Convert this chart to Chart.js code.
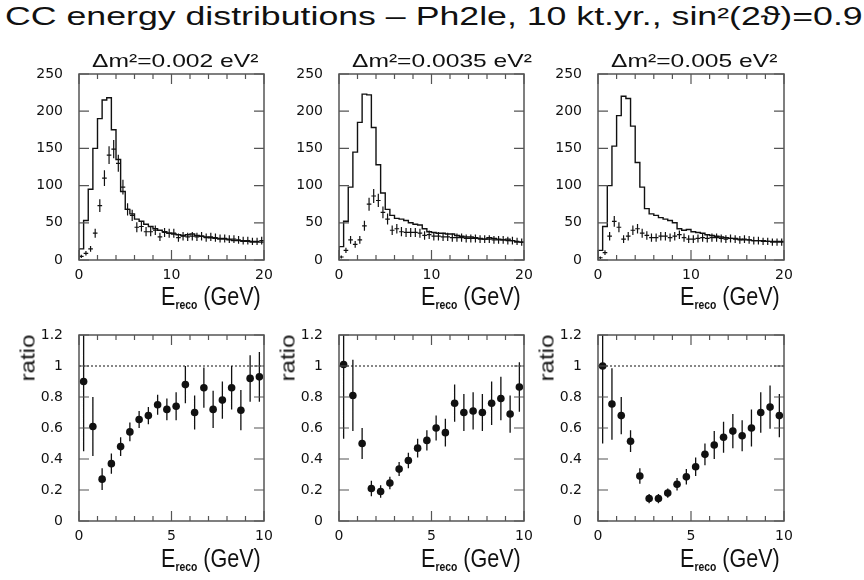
<!DOCTYPE html>
<html>
<head>
<meta charset="utf-8">
<script src="https://cdn.jsdelivr.net/npm/chart.js@4/dist/chart.umd.min.js"></script>
<style>
body { margin: 0; background: #fff; }
#page { position: relative; width: 864px; height: 580px; overflow: hidden;
        font-family: "Liberation Sans", Arial, sans-serif; color: #111; }
canvas { position: absolute; }
.txt { position: absolute; white-space: nowrap; line-height: 1; transform-origin: 0 0; }
.rot { transform-origin: 50% 50%; }
.sub { font-size: 12px; font-weight: bold; position: relative; top: 4px; }
</style>
</head>
<body>
<div id="page"></div>
<script>
// 0.5 GeV bins, 0-20 GeV (top row) and 0-10 GeV (ratio row)
var binWidth = 0.5;

var topXTicks = [0, 10, 20];
var topYTicks = [0, 50, 100, 150, 200, 250];
var ratioXTicks = [0, 5, 10];
var ratioYTicks = [0, 0.2, 0.4, 0.6, 0.8, 1, 1.2];

var panelTitles = ['Δm²=0.002 eV²', 'Δm²=0.0035 eV²', 'Δm²=0.005 eV²'];

// unoscillated spectra (histogram outline)
var noOsc1 = [5, 15, 53, 95, 150, 190, 215, 218, 175, 135, 92, 68, 62, 55, 52, 48, 45, 42, 40, 38,
              36, 35, 34, 33, 34, 35, 33, 32, 31, 30, 29, 28, 28, 27, 26, 26, 25, 25, 24, 24];
var noOsc2 = [4, 18, 52, 98, 145, 185, 223, 222, 178, 128, 90, 68, 60, 56, 55, 53, 50, 48, 47, 42,
              38, 37, 36, 36, 35, 35, 33, 32, 31, 31, 30, 29, 28, 30, 29, 28, 27, 28, 26, 24];
var noOsc3 = [2, 13, 45, 100, 153, 194, 220, 217, 180, 131, 98, 69, 62, 60, 57, 55, 53, 50, 42, 40,
              41, 38, 37, 36, 34, 33, 32, 31, 30, 29, 29, 28, 27, 27, 26, 26, 26, 25, 25, 25];

// oscillated spectra (crosses) and their errors
var osc1 = [5, 9, 15, 36, 73, 110, 141, 149, 130, 98, 68, 60, 44, 45, 38, 38, 40, 31, 37, 36,
            36, 30, 32, 31, 32, 31, 32, 30, 31, 30, 29, 29, 28, 28, 27, 26, 26, 25, 25, 26];
var oscErr1 = [2.2, 3, 3.9, 6, 8.5, 10.5, 11.9, 12.2, 11.4, 9.9, 8.2, 7.7, 6.6, 6.7, 6.2, 6.2, 6.3, 5.6, 6.1, 6,
               6, 5.5, 5.7, 5.6, 5.7, 5.6, 5.7, 5.5, 5.6, 5.5, 5.4, 5.4, 5.3, 5.3, 5.2, 5.1, 5.1, 5, 5, 5.1];
var osc2 = [4, 13, 27, 21, 27, 46, 75, 86, 80, 64, 55, 40, 42, 38, 37, 37, 37, 36, 33, 34,
            32, 32, 31, 31, 30, 30, 30, 29, 29, 29, 28, 28, 28, 27, 27, 27, 26, 26, 25, 24];
var oscErr2 = [2, 3.6, 5.2, 4.6, 5.2, 6.8, 8.7, 9.3, 8.9, 8, 7.4, 6.3, 6.5, 6.2, 6.1, 6.1, 6.1, 6, 5.7, 5.8,
               5.7, 5.7, 5.6, 5.6, 5.5, 5.5, 5.5, 5.4, 5.4, 5.4, 5.3, 5.3, 5.3, 5.2, 5.2, 5.2, 5.1, 5.1, 5, 4.9];
var osc3 = [3, 10, 32, 52, 44, 28, 32, 40, 42, 36, 33, 30, 30, 32, 32, 30, 32, 34, 30, 28,
            28, 29, 30, 29, 30, 30, 29, 28, 29, 28, 27, 28, 27, 26, 26, 25, 25, 24, 24, 24];
var oscErr3 = [1.7, 3.2, 5.7, 7.2, 6.6, 5.3, 5.7, 6.3, 6.5, 6, 5.7, 5.5, 5.5, 5.7, 5.7, 5.5, 5.7, 5.8, 5.5, 5.3,
               5.3, 5.4, 5.5, 5.4, 5.5, 5.5, 5.4, 5.3, 5.4, 5.3, 5.2, 5.3, 5.2, 5.1, 5.1, 5, 5, 4.9, 4.9, 4.9];

// ratio oscillated / unoscillated, 0-10 GeV
var ratio1 = [0.90, 0.61, 0.27, 0.37, 0.48, 0.575, 0.655, 0.68, 0.75, 0.72,
              0.74, 0.88, 0.70, 0.86, 0.72, 0.78, 0.86, 0.715, 0.92, 0.93];
var ratioErr1 = [0.45, 0.19, 0.07, 0.065, 0.06, 0.06, 0.055, 0.055, 0.065, 0.07,
                 0.09, 0.12, 0.11, 0.13, 0.12, 0.12, 0.14, 0.13, 0.15, 0.16];
var ratio2 = [1.01, 0.81, 0.50, 0.21, 0.19, 0.245, 0.335, 0.39, 0.47, 0.52,
              0.60, 0.57, 0.76, 0.70, 0.71, 0.70, 0.76, 0.79, 0.69, 0.865];
var ratioErr2 = [0.48, 0.23, 0.1, 0.05, 0.04, 0.04, 0.045, 0.05, 0.06, 0.065,
                 0.08, 0.09, 0.12, 0.12, 0.12, 0.12, 0.14, 0.14, 0.12, 0.16];
var ratio3 = [1.0, 0.755, 0.68, 0.515, 0.29, 0.145, 0.145, 0.18, 0.237, 0.285,
              0.35, 0.43, 0.49, 0.54, 0.58, 0.55, 0.60, 0.70, 0.735, 0.68];
var ratioErr3 = [0.5, 0.23, 0.12, 0.07, 0.05, 0.03, 0.03, 0.03, 0.04, 0.05,
                 0.06, 0.07, 0.09, 0.1, 0.11, 0.1, 0.12, 0.13, 0.14, 0.14];

var panels = [
  {left: 79, width: 185, noOsc: noOsc1, osc: osc1, oscErr: oscErr1, ratio: ratio1, ratioErr: ratioErr1, ratioX: 27},
  {left: 339, width: 185, noOsc: noOsc2, osc: osc2, oscErr: oscErr2, ratio: ratio2, ratioErr: ratioErr2, ratioX: 287},
  {left: 598, width: 186, noOsc: noOsc3, osc: osc3, oscErr: oscErr3, ratio: ratio3, ratioErr: ratioErr3, ratioX: 546}
];

var INK = '#111';
var FRAME = '#555';

function stepPoints(vals) {
  var pts = [{x: 0, y: 0}];
  vals.forEach(function (v, i) { pts.push({x: i * binWidth, y: v}); });
  pts.push({x: vals.length * binWidth, y: vals[vals.length - 1]});
  return pts;
}

function barPoints(vals, errs, horiz) {
  var pts = [];
  vals.forEach(function (v, i) {
    var xc = (i + 0.5) * binWidth;
    pts.push({x: xc, y: v - errs[i]}, {x: xc, y: v + errs[i]}, {x: xc, y: null});
    if (horiz) {
      pts.push({x: xc - binWidth / 2, y: v}, {x: xc + binWidth / 2, y: v}, {x: xc, y: null});
    }
  });
  return pts;
}

function centerPoints(vals) {
  return vals.map(function (v, i) { return {x: (i + 0.5) * binWidth, y: v}; });
}

// box round the plot with inward ticks on all four sides
var framePlugin = {
  id: 'frame',
  afterDatasetsDraw: function (chart, args, o) {
    var ctx = chart.ctx, a = chart.chartArea, x = chart.scales.x, y = chart.scales.y;
    ctx.save();
    ctx.strokeStyle = FRAME;
    ctx.lineWidth = 1.5;
    ctx.strokeRect(a.left, a.top, a.right - a.left, a.bottom - a.top);
    ctx.lineWidth = 1.2;
    ctx.beginPath();
    for (var v = x.min; v <= x.max + 1e-9; v += o.xMinor) {
      var px = x.getPixelForValue(v);
      var len = Math.abs(v % o.xMajor) < 1e-9 ? 10 : 5;
      ctx.moveTo(px, a.bottom); ctx.lineTo(px, a.bottom - len);
      ctx.moveTo(px, a.top); ctx.lineTo(px, a.top + len);
    }
    o.yTicks.forEach(function (t) {
      var py = y.getPixelForValue(t);
      ctx.moveTo(a.left, py); ctx.lineTo(a.left + 10, py);
      ctx.moveTo(a.right, py); ctx.lineTo(a.right - 10, py);
    });
    ctx.stroke();
    ctx.restore();
  }
};

function makeChart(left, top, width, datasets, xTicks, yTicks, xMinor) {
  var c = document.createElement('canvas');
  var w = 70 + width + 14, h = 10 + 186 + 30;
  c.width = w; c.height = h;
  c.style.left = (left - 70) + 'px';
  c.style.top = (top - 10) + 'px';
  c.style.width = w + 'px'; c.style.height = h + 'px';
  document.getElementById('page').appendChild(c);
  var tickFont = {family: '"DejaVu Sans", sans-serif', size: 14};
  return new Chart(c.getContext('2d'), {
    type: 'line',
    data: {datasets: datasets},
    plugins: [framePlugin],
    options: {
      responsive: false,
      animation: false,
      devicePixelRatio: 1,
      layout: {padding: {top: 10, right: 14, left: 0, bottom: 0}},
      plugins: {
        legend: {display: false},
        tooltip: {enabled: false},
        frame: {xMinor: xMinor, xMajor: xTicks[1], yTicks: yTicks}
      },
      scales: {
        x: {
          type: 'linear',
          min: xTicks[0], max: xTicks[xTicks.length - 1],
          grid: {display: false, drawTicks: false},
          border: {display: false},
          ticks: {stepSize: xTicks[1] - xTicks[0], padding: 7, color: INK, font: tickFont,
                  maxRotation: 0, autoSkip: false},
          afterFit: function (s) { s.height = 30; s.paddingLeft = 0; s.paddingRight = 0; }
        },
        y: {
          min: yTicks[0], max: yTicks[yTicks.length - 1],
          grid: {display: false, drawTicks: false},
          border: {display: false},
          ticks: {stepSize: yTicks[1] - yTicks[0], padding: 16, color: INK, font: tickFont,
                  callback: function (v) { return String(Math.round(v * 10) / 10); }},
          afterFit: function (s) { s.width = 70; s.paddingTop = 0; s.paddingBottom = 0; }
        }
      }
    }
  });
}

function addText(html, cls, style) {
  var d = document.createElement('div');
  d.className = 'txt ' + cls;
  d.innerHTML = html;
  Object.keys(style).forEach(function (k) { d.style[k] = style[k]; });
  document.getElementById('page').appendChild(d);
  return d;
}

function fitWidth(el, target, rotated) {
  var k = target / el.offsetWidth;
  el.style.transform = (rotated ? 'translate(-50%,-50%) rotate(-90deg) ' : '') + 'scaleX(' + k + ')';
}

var title = addText('CC energy distributions – Ph2le, 10 kt.yr., sin²(2ϑ)=0.9', '',
                    {left: '5px', top: '4px', fontSize: '25px'});
fitWidth(title, 858);

panels.forEach(function (p, i) {
  // top row: spectra
  makeChart(p.left, 74, p.width, [
    {data: stepPoints(p.noOsc), stepped: 'after', borderColor: INK, borderWidth: 1.4,
     pointRadius: 0, fill: false},
    {data: barPoints(p.osc, p.oscErr, true), borderColor: INK, borderWidth: 1.2,
     pointRadius: 0, fill: false, spanGaps: false}
  ], topXTicks, topYTicks, 2);

  // bottom row: ratio
  makeChart(p.left, 335, p.width, [
    {data: [{x: ratioXTicks[0], y: 1}, {x: ratioXTicks[2], y: 1}], borderColor: INK,
     borderWidth: 1, borderDash: [2, 2], pointRadius: 0, fill: false},
    {data: barPoints(p.ratio, p.ratioErr, false), borderColor: INK, borderWidth: 1.3,
     pointRadius: 0, fill: false, spanGaps: false},
    {data: centerPoints(p.ratio), showLine: false, pointRadius: 3.8, pointBorderWidth: 0,
     pointBackgroundColor: INK}
  ], ratioXTicks, ratioYTicks, 1);

  var t = addText(panelTitles[i], '', {left: (p.left + 13) + 'px', top: '51px', fontSize: '19px'});
  fitWidth(t, i === 1 ? 180 : 166);

  var lab = 'E<span class="sub">reco</span> (GeV)';
  fitWidth(addText(lab, '', {left: (p.left + 82) + 'px', top: '284px', fontSize: '25px'}), 100);
  fitWidth(addText(lab, '', {left: (p.left + 82) + 'px', top: '546px', fontSize: '25px'}), 100);

  fitWidth(addText('ratio', 'rot', {left: p.ratioX + 'px', top: '358px', fontSize: '21px'}), 47, true);
});
</script>
</body>
</html>
